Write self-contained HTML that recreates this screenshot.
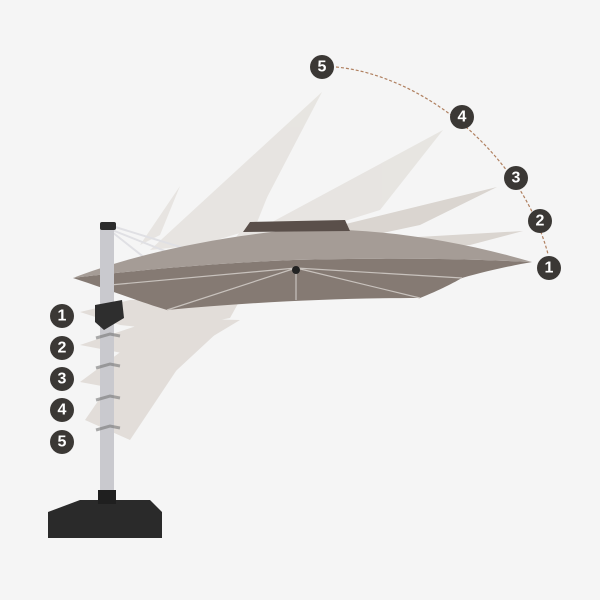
<!DOCTYPE html>
<html><head><style>
html,body{margin:0;padding:0;background:#f5f5f5;}
svg{display:block}
text{font-family:"Liberation Sans",sans-serif;font-weight:bold;font-size:16px;fill:#fff;text-anchor:middle;dominant-baseline:central}
</style></head><body>
<svg width="600" height="600" viewBox="0 0 600 600">
<rect width="600" height="600" fill="#f5f5f5"/>
<!-- ghost canopies up -->
<g fill="#e6e3df" opacity="0.9">
<polygon points="140,245 180,186 160,235"/>
<polygon points="150,250 322,92 250,230 200,245"/>
<polygon points="230,245 268,195 250,240"/>
<polygon points="220,250 443,130 380,210 300,235"/>
</g>
<g fill="#d6d0ca" opacity="0.85">
<polygon points="260,245 497,187 420,225 350,240"/>
<polygon points="280,245 523,231 470,245 400,250"/>
</g>
<!-- ghost canopies down -->
<g fill="#dcd6d0" opacity="0.75">
<polygon points="80,312 130,300 240,300 230,318 167,330 120,325"/>
<polygon points="80,345 160,318 240,320 170,362"/>
<polygon points="80,382 150,330 220,330 150,395"/>
<polygon points="85,420 140,340 200,335 130,440"/>
</g>
<!-- struts -->
<g stroke="#e0e0e4" stroke-width="2">
<line x1="112" y1="226" x2="190" y2="250"/><line x1="112" y1="230" x2="175" y2="255"/><line x1="112" y1="232" x2="150" y2="262"/>
</g>
<!-- main canopy underside -->
<path d="M73,278 C110,290 140,302 167,310 C250,302 340,298 420,298 C440,290 455,282 462,278 C490,270 515,265 532,262 C450,258 370,258 293,260 C200,264 130,271 73,278 Z" fill="#857a73"/>
<!-- top surface -->
<path d="M73,278 C130,256 200,240 280,231 C360,225 450,238 532,262 C450,258 370,258 293,260 C200,264 130,271 73,278 Z" fill="#a59c96"/>
<polygon points="243,232 250,222 345,220 350,231" fill="#5a4f4a"/>
<g stroke="#c8c2bd" stroke-width="1.2">
<line x1="296" y1="268" x2="167" y2="310"/><line x1="296" y1="268" x2="420" y2="298"/><line x1="296" y1="268" x2="110" y2="285"/><line x1="296" y1="268" x2="462" y2="278"/>
<line x1="296" y1="268" x2="296" y2="300"/>
</g>
<circle cx="296" cy="270" r="4" fill="#222"/>
<!-- pole -->
<rect x="100" y="224" width="14" height="272" fill="#c9c9ce"/>
<rect x="100" y="222" width="16" height="8" rx="2" fill="#2c2c2c"/>
<polygon points="95,305 122,300 124,318 104,330 95,322" fill="#2e2e2e"/>
<g fill="none" stroke="#777" stroke-width="3" opacity="0.6">
<path d="M96,338 l14,-4 10,2"/><path d="M96,368 l14,-4 10,2"/><path d="M96,400 l14,-4 10,2"/><path d="M96,430 l14,-4 10,2"/>
</g>
<!-- base -->
<polygon points="48,512 80,500 150,500 162,512 162,538 48,538" fill="#2a2a2a"/>
<rect x="98" y="490" width="18" height="14" fill="#1f1f1f"/>
<!-- arc -->
<path d="M336,67 C420,75 520,150 548,254" fill="none" stroke="#b08060" stroke-width="1.2" stroke-dasharray="3,2"/>
<g>
<circle cx="322" cy="67" r="12" fill="#3b3835"/><text x="322" y="67">5</text>
<circle cx="462" cy="117" r="12" fill="#3b3835"/><text x="462" y="117">4</text>
<circle cx="516" cy="178" r="12" fill="#3b3835"/><text x="516" y="178">3</text>
<circle cx="540" cy="221" r="12" fill="#3b3835"/><text x="540" y="221">2</text>
<circle cx="549" cy="268" r="12" fill="#3b3835"/><text x="549" y="268">1</text>
<circle cx="62" cy="316" r="12" fill="#3b3835"/><text x="62" y="316">1</text>
<circle cx="62" cy="348" r="12" fill="#3b3835"/><text x="62" y="348">2</text>
<circle cx="62" cy="379" r="12" fill="#3b3835"/><text x="62" y="379">3</text>
<circle cx="62" cy="410" r="12" fill="#3b3835"/><text x="62" y="410">4</text>
<circle cx="62" cy="442" r="12" fill="#3b3835"/><text x="62" y="442">5</text>
</g>
</svg>
</body></html>
